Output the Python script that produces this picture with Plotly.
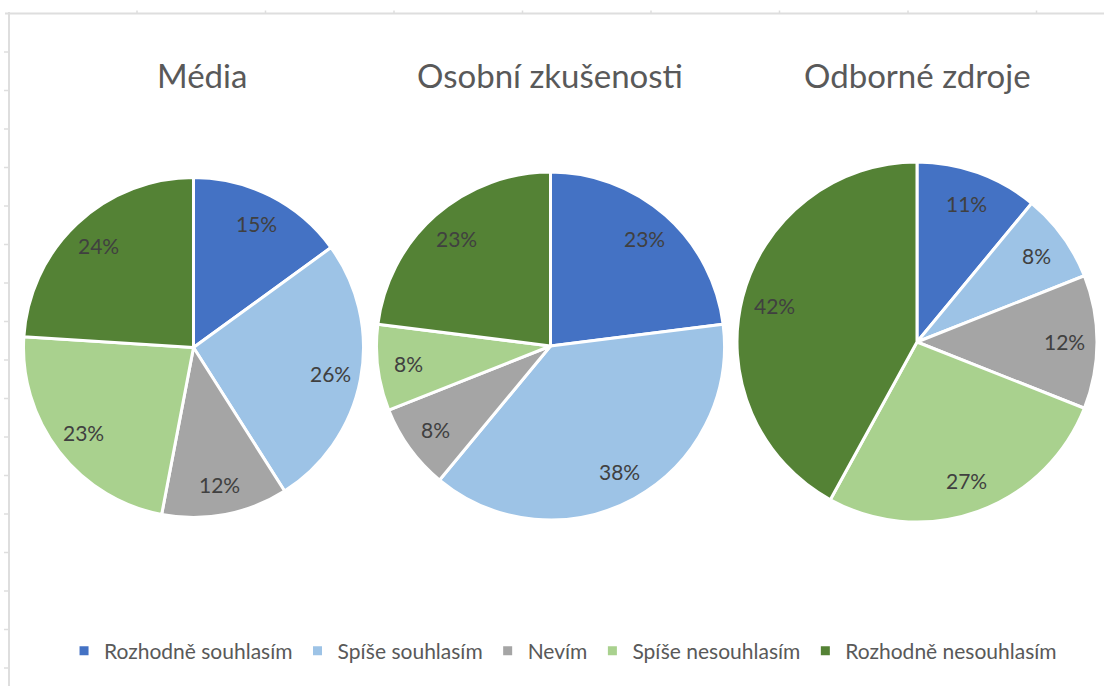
import math
import plotly.graph_objects as go

W, H = 1104, 686

categories = ["Rozhodně souhlasím", "Spíše souhlasím", "Nevím",
              "Spíše nesouhlasím", "Rozhodně nesouhlasím"]
titles = ["Média", "Osobní zkušenosti", "Odborné zdroje"]
media = [15, 26, 12, 23, 24]
osobni = [23, 38, 8, 8, 23]
odborne = [11, 8, 12, 27, 42]
series = [media, osobni, odborne]

colors = ["#4472C4", "#9DC3E6", "#A5A5A5", "#A9D18E", "#548235"]

# layout geometry (pixels)
centers = [(193.5, 347.5), (550.5, 346), (917, 342)]
radii = [170, 174, 180]
title_pos = [(202, 75), (550, 75), (917, 75)]
label_frac = 0.82  # radial position of the percentage labels

fig = go.Figure()
annotations = []
for i, vals in enumerate(series):
    cx, cy = centers[i]
    r = radii[i]
    fig.add_trace(go.Pie(
        labels=categories,
        values=vals,
        sort=False,
        direction="clockwise",
        rotation=0,
        marker=dict(colors=colors, line=dict(color="white", width=3)),
        textinfo="none",
        domain=dict(x=[(cx - r) / W, (cx + r) / W],
                    y=[1 - (cy + r) / H, 1 - (cy - r) / H]),
        showlegend=(i == 0),
        hoverinfo="label+percent",
    ))
    # percentage labels placed along each slice's mid-angle
    total = float(sum(vals))
    cum = 0.0
    for v in vals:
        mid = (cum + v / 2.0) / total * 2 * math.pi
        cum += v
        px = cx + label_frac * r * math.sin(mid)
        py = cy - label_frac * r * math.cos(mid)
        annotations.append(dict(text=f"{v}%", x=px / W, y=1 - py / H,
                                xref="paper", yref="paper", showarrow=False,
                                xanchor="center", yanchor="middle",
                                font=dict(family="Lato", size=21,
                                          color="#404040")))

shapes = []
grid = "#DEDEDE"
# spreadsheet frame behind the charts
shapes.append(dict(type="line", xref="paper", yref="paper",
                   x0=5 / W, x1=1, y0=1 - 13.5 / H, y1=1 - 13.5 / H,
                   line=dict(color=grid, width=2)))
shapes.append(dict(type="line", xref="paper", yref="paper",
                   x0=9 / W, x1=9 / W, y0=0, y1=1 - 12 / H,
                   line=dict(color=grid, width=2)))
k = 1
while 13.5 + 38.5 * k < H:
    y = 13.5 + 38.5 * k
    shapes.append(dict(type="line", xref="paper", yref="paper",
                       x0=4 / W, x1=9 / W, y0=1 - y / H, y1=1 - y / H,
                       line=dict(color=grid, width=1.5)))
    k += 1
k = 0
while 137 + 128.5 * k < W:
    x = 137 + 128.5 * k
    shapes.append(dict(type="line", xref="paper", yref="paper",
                       x0=x / W, x1=x / W, y0=1 - 10.5 / H, y1=1 - 13.5 / H,
                       line=dict(color=grid, width=1.5)))
    k += 1

for t, (tx, ty) in zip(titles, title_pos):
    annotations.append(dict(text=t, x=tx / W, y=1 - ty / H, xref="paper",
                            yref="paper", showarrow=False, xanchor="center",
                            yanchor="middle",
                            font=dict(family="Lato", size=33, color="#595959")))

fig.update_layout(
    width=W, height=H,
    margin=dict(l=0, r=0, t=0, b=0),
    paper_bgcolor="white",
    plot_bgcolor="white",
    shapes=shapes,
    annotations=annotations,
    legend=dict(orientation="h", x=0.51, xanchor="center", y=1 - 651 / H,
                yanchor="middle", traceorder="normal",
                font=dict(family="Lato", size=21, color="#595959"),
                itemwidth=30, tracegroupgap=0),
)

fig.write_html("out.html",
               config={"displayModeBar": False},
               post_script="document.body.style.margin='0';"
                           "document.body.style.overflow='hidden';")
